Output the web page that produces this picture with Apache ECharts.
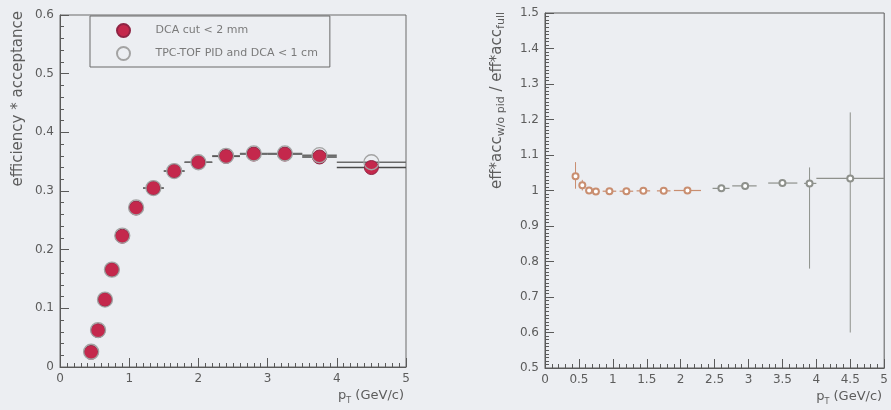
<!DOCTYPE html>
<html>
<head>
<meta charset="utf-8">
<script src="https://cdn.jsdelivr.net/npm/echarts@6/dist/echarts.min.js"></script>
<style>
  html, body { margin: 0; padding: 0; background: #eceef2; }
  #chart { width: 891px; height: 410px; }
</style>
</head>
<body>
<div id="chart"></div>
<script>
// pT bins (GeV/c) for the efficiency x acceptance panel
const binLow    = [0.4, 0.5, 0.6, 0.7, 0.8, 1.0, 1.2, 1.5, 1.8, 2.2, 2.6, 3.0, 3.5, 4.0];
const binHigh   = [0.5, 0.6, 0.7, 0.8, 1.0, 1.2, 1.5, 1.8, 2.2, 2.6, 3.0, 3.5, 4.0, 5.0];
const ptCenter  = [0.45, 0.55, 0.65, 0.75, 0.9, 1.1, 1.35, 1.65, 2.0, 2.4, 2.8, 3.25, 3.75, 4.5];

// efficiency x acceptance for the two selections
const effDca = [0.025, 0.062, 0.115, 0.166, 0.223, 0.271, 0.305, 0.334, 0.349, 0.359, 0.363, 0.363, 0.358, 0.340];
const effPid = [0.026, 0.063, 0.115, 0.166, 0.224, 0.272, 0.305, 0.334, 0.349, 0.360, 0.364, 0.364, 0.361, 0.349];

const seriesNames = ['DCA cut < 2 mm', 'TPC-TOF PID and DCA < 1 cm'];

// ratio panel: points, horizontal extent and asymmetric vertical errors
const ratioPt    = [0.45, 0.55, 0.65, 0.75, 0.95, 1.2, 1.45, 1.75, 2.1, 2.6, 2.95, 3.5, 3.9, 4.5];
const ratioXLow  = [0.40, 0.50, 0.60, 0.70, 0.85, 1.10, 1.35, 1.65, 1.90, 2.47, 2.76, 3.29, 3.82, 4.0];
const ratioXHigh = [0.50, 0.60, 0.70, 0.80, 1.05, 1.30, 1.55, 1.85, 2.30, 2.72, 3.12, 3.72, 4.00, 5.0];
const ratio      = [1.040, 1.015, 1.000, 0.997, 0.998, 0.998, 0.999, 0.999, 1.000, 1.006, 1.013, 1.021, 1.020, 1.034];
const ratioYLow  = [1.005, 1.000, 0.990, 0.990, 0.992, 0.994, 0.995, 0.995, 0.995, 0.998, 1.003, 1.010, 0.780, 0.600];
const ratioYHigh = [1.080, 1.030, 1.010, 1.005, 1.004, 1.003, 1.003, 1.003, 1.005, 1.014, 1.023, 1.032, 1.065, 1.220];

const FONT = 'DejaVu Sans, Liberation Sans, sans-serif';
const AXIS = '#5a5a5a';
const TEXT = '#5c5c5c';

// [x, y, xLow, xHigh, yLow, yHigh]
const effErrDca = ptCenter.map((x, i) => [x, effDca[i], binLow[i], binHigh[i], effDca[i], effDca[i]]);
const effErrPid = ptCenter.map((x, i) => [x, effPid[i], binLow[i], binHigh[i], effPid[i], effPid[i]]);
const ratioErr  = ratioPt.map((x, i) => [x, ratio[i], ratioXLow[i], ratioXHigh[i], ratioYLow[i], ratioYHigh[i]]);

function ratioColor(x) { return x < 2.3 ? '#c98e70' : '#8e918c'; }

function errorBars(colorFn, width) {
  return function (params, api) {
    const x = api.value(0), y = api.value(1);
    const xl = api.value(2), xh = api.value(3), yl = api.value(4), yh = api.value(5);
    const col = colorFn(x);
    const a = api.coord([xl, y]), b = api.coord([xh, y]);
    const children = [{
      type: 'line',
      shape: { x1: a[0], y1: a[1], x2: b[0], y2: b[1] },
      style: { stroke: col, lineWidth: width }
    }];
    if (yh > yl) {
      const c = api.coord([x, yl]), d = api.coord([x, yh]);
      children.push({
        type: 'line',
        shape: { x1: c[0], y1: c[1], x2: d[0], y2: d[1] },
        style: { stroke: col, lineWidth: 1 }
      });
    }
    return { type: 'group', children };
  };
}

function valueAxis(extra, minorSplit) {
  return Object.assign({
    type: 'value',
    axisLine: { show: true, onZero: false, lineStyle: { color: AXIS, width: 1 } },
    axisTick: { show: true, inside: true, length: 9, lineStyle: { color: AXIS } },
    minorTick: { show: true, splitNumber: minorSplit, length: 4, lineStyle: { color: AXIS } },
    splitLine: { show: false },
    axisLabel: { color: TEXT, fontFamily: FONT, fontSize: 12, margin: 6 }
  }, extra);
}

const xName = {
  name: '{b|p}{s|T}{b| (GeV/c)}',
  nameLocation: 'end',
  nameGap: -2,
  nameTextStyle: {
    align: 'right', verticalAlign: 'top', padding: [21, 0, 0, 0],
    rich: {
      b: { fontFamily: FONT, fontSize: 13, color: TEXT, lineHeight: 16 },
      s: { fontFamily: FONT, fontSize: 8, color: TEXT, lineHeight: 16, padding: [9, 0, 0, 0] }
    }
  }
};

const chart = echarts.init(document.getElementById('chart'), null, { renderer: 'canvas' });

chart.setOption({
  backgroundColor: '#eceef2',
  animation: false,
  textStyle: { fontFamily: FONT },
  grid: [
    { left: 60, right: 485, top: 15, bottom: 43, show: true, borderColor: '#6a6a6a', borderWidth: 1, backgroundColor: 'transparent' },
    { left: 545, right: 3, top: 13, bottom: 42, show: true, borderColor: '#5a5a5a', borderWidth: 1, backgroundColor: 'transparent' }
  ],
  xAxis: [
    valueAxis(Object.assign({ gridIndex: 0, min: 0, max: 5, interval: 1 }, xName), 10),
    valueAxis(Object.assign({ gridIndex: 1, min: 0, max: 5, interval: 0.5 }, xName), 5)
  ],
  yAxis: [
    valueAxis({ gridIndex: 0, min: 0, max: 0.6, interval: 0.1 }, 5),
    valueAxis({ gridIndex: 1, min: 0.5, max: 1.5, interval: 0.1 }, 10)
  ],
  legend: {
    left: 90, top: 16,
    orient: 'vertical',
    data: seriesNames,
    itemWidth: 14, itemHeight: 13,
    itemGap: 8,
    padding: [7, 12, 6, 26],
    borderColor: '#6a6a6a', borderWidth: 1,
    textStyle: { color: '#7a7a7a', fontFamily: FONT, fontSize: 11, padding: [0, 0, 0, 20], width: 212 }
  },
  graphic: [
    {
      type: 'text', x: 18, y: 11, rotation: Math.PI / 2,
      style: { text: 'efficiency * acceptance', align: 'right', verticalAlign: 'middle', fill: TEXT, font: '15px ' + FONT }
    },
    {
      type: 'text', x: 497, y: 12, rotation: Math.PI / 2,
      style: {
        text: '{b|eff*acc}{s|w/o pid}{b| / eff*acc}{s|full}',
        align: 'right', verticalAlign: 'middle',
        rich: {
          b: { fontFamily: FONT, fontSize: 15, fill: TEXT, lineHeight: 18 },
          s: { fontFamily: FONT, fontSize: 11, fill: TEXT, lineHeight: 18, padding: [8, 0, 0, 0] }
        }
      }
    }
  ],
  series: [
    {
      type: 'custom', name: 'err-dca', xAxisIndex: 0, yAxisIndex: 0,
      renderItem: errorBars(() => '#4a4a4a', 1.4), data: effErrDca,
      encode: { x: [0, 2, 3], y: [1, 4, 5] }, z: 1, silent: true
    },
    {
      type: 'custom', name: 'err-pid', xAxisIndex: 0, yAxisIndex: 0,
      renderItem: errorBars(() => '#6a6a6a', 1.4), data: effErrPid,
      encode: { x: [0, 2, 3], y: [1, 4, 5] }, z: 1, silent: true
    },
    {
      type: 'scatter', name: seriesNames[0], xAxisIndex: 0, yAxisIndex: 0,
      data: ptCenter.map((x, i) => [x, effDca[i]]),
      symbol: 'circle', symbolSize: 14,
      itemStyle: { color: '#c4284c', borderColor: '#8f2444', borderWidth: 1, opacity: 1 }, z: 4
    },
    {
      type: 'scatter', name: seriesNames[1], xAxisIndex: 0, yAxisIndex: 0,
      data: ptCenter.map((x, i) => [x, effPid[i]]),
      symbol: 'circle', symbolSize: 15,
      itemStyle: { color: 'rgba(255,255,255,0)', borderColor: '#a3a3a3', borderWidth: 1.3, opacity: 1 }, z: 5
    },
    {
      type: 'custom', name: 'ratio-err', xAxisIndex: 1, yAxisIndex: 1,
      renderItem: errorBars(ratioColor, 1.2), data: ratioErr,
      encode: { x: [0, 2, 3], y: [1, 4, 5] }, z: 2, silent: true
    },
    {
      type: 'scatter', name: 'ratio', xAxisIndex: 1, yAxisIndex: 1,
      data: ratioPt.map((x, i) => [x, ratio[i]]),
      symbol: 'emptyCircle', symbolSize: 6,
      itemStyle: { color: (p) => ratioColor(p.value[0]), borderWidth: 1, opacity: 1 }, z: 3
    }
  ]
});
</script>
</body>
</html>
